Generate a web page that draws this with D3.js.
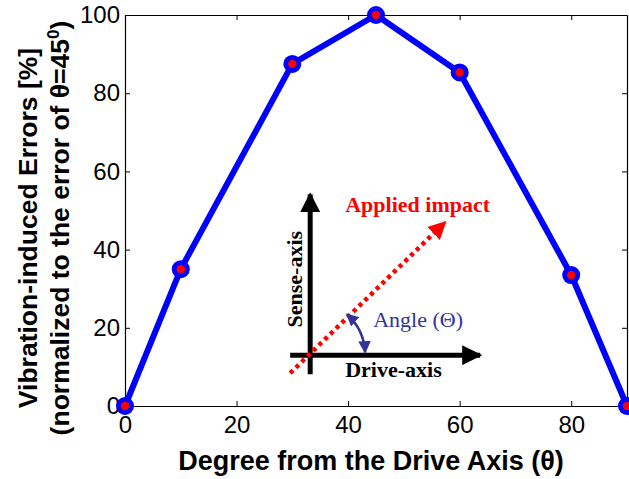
<!DOCTYPE html>
<html>
<head>
<meta charset="utf-8">
<script src="https://cdn.jsdelivr.net/npm/d3@7"></script>
<style>
  body { margin: 0; background: #fff; }
  svg { display: block; }
</style>
</head>
<body>
<svg width="629" height="479"></svg>
<script>
"use strict";

// data
let degrees = [0, 10, 30, 45, 60, 80, 90];
let errors = [0, 35, 87.5, 100, 85.3, 33.5, 0];
let xTicks = [0, 20, 40, 60, 80];
let yTicks = [0, 20, 40, 60, 80, 100];

let svg = d3.select("svg"),
    margin = { top: 15, right: 2, bottom: 73, left: 125 },
    width = +svg.attr("width") - margin.left - margin.right,
    height = +svg.attr("height") - margin.top - margin.bottom;

let x = d3.scaleLinear().domain([0, 90]).range([margin.left, margin.left + width]);
let y = d3.scaleLinear().domain([0, 100]).range([margin.top + height, margin.top]);

let tickFont = "'Liberation Sans', Arial, Helvetica, sans-serif";

// box with inward ticks (matlab style)
svg.append("g").attr("transform", "translate(0," + y(0) + ")")
    .call(d3.axisBottom(x).tickValues(xTicks).tickSizeInner(-5).tickSizeOuter(0).tickPadding(10));
svg.append("g").attr("transform", "translate(" + x(0) + ",0)")
    .call(d3.axisLeft(y).tickValues(yTicks).tickSizeInner(-5).tickSizeOuter(0).tickPadding(5));
svg.append("g").attr("transform", "translate(0," + y(100) + ")")
    .call(d3.axisTop(x).tickValues(xTicks).tickSizeInner(-5).tickSizeOuter(0).tickFormat(""));
svg.append("g").attr("transform", "translate(" + x(90) + ",0)")
    .call(d3.axisRight(y).tickValues(yTicks).tickSizeInner(-5).tickSizeOuter(0).tickFormat(""));

svg.selectAll(".domain").attr("stroke", "#000").attr("stroke-width", 1.2);
svg.selectAll(".tick line").attr("stroke", "#000");
svg.selectAll(".tick text").attr("font-family", tickFont).attr("font-size", 24).attr("fill", "#000");

// data line and markers
let line = d3.line().x(function (d, i) { return x(degrees[i]); }).y(function (d) { return y(d); });
svg.append("path").datum(errors)
    .attr("d", line)
    .attr("fill", "none")
    .attr("stroke", "#0000ff")
    .attr("stroke-width", 6)
    .attr("stroke-linejoin", "round");

let pts = svg.append("g").selectAll("g").data(errors).enter().append("g")
    .attr("transform", function (d, i) { return "translate(" + x(degrees[i]) + "," + y(d) + ")"; });
pts.append("circle").attr("r", 9).attr("fill", "#0000ff");
pts.append("circle").attr("r", 4.2).attr("fill", "#ff0000");

// axis titles
svg.append("text")
    .attr("x", 371).attr("y", 470)
    .attr("text-anchor", "middle")
    .attr("font-family", tickFont).attr("font-weight", "bold").attr("font-size", 27)
    .text("Degree from the Drive Axis (θ)");

let yl = svg.append("text")
    .attr("transform", "translate(37,228) rotate(-90)")
    .attr("text-anchor", "middle")
    .attr("font-family", tickFont).attr("font-weight", "bold").attr("font-size", 26.5);
yl.append("tspan").attr("x", 0).attr("y", 0).text("Vibration-induced Errors [%]");
yl.append("tspan").attr("x", 0).attr("y", 32).text("(normalized to the error of θ=45");
yl.append("tspan").attr("dy", -10).attr("font-size", 17).text("0");
yl.append("tspan").attr("dy", 10).text(")");

// inset diagram: drive / sense axes with the impact direction
let serif = "'Liberation Serif', 'Times New Roman', Times, serif";
let ox = x(33.2), oy = y(13);
let inset = svg.append("g").attr("transform", "translate(" + ox + "," + oy + ")");

let defs = svg.append("defs");
defs.append("marker").attr("id", "blk").attr("viewBox", "0 0 10 10")
    .attr("refX", 9).attr("refY", 5).attr("markerWidth", 4).attr("markerHeight", 4)
    .attr("markerUnits", "strokeWidth").attr("orient", "auto")
    .append("path").attr("d", "M0,0L10,5L0,10Z").attr("fill", "#000");
defs.append("marker").attr("id", "red").attr("viewBox", "0 0 10 10")
    .attr("refX", 9).attr("refY", 5).attr("markerWidth", 4).attr("markerHeight", 4)
    .attr("markerUnits", "strokeWidth").attr("orient", "auto")
    .append("path").attr("d", "M0,0L10,5L0,10Z").attr("fill", "#ff0000");
defs.append("marker").attr("id", "nav").attr("viewBox", "0 0 10 10")
    .attr("refX", 9).attr("refY", 5).attr("markerWidth", 5).attr("markerHeight", 5)
    .attr("markerUnits", "strokeWidth").attr("orient", "auto-start-reverse")
    .append("path").attr("d", "M0,0L10,5L0,10Z").attr("fill", "#333399");

inset.append("line").attr("x1", -20).attr("y1", 0).attr("x2", 170).attr("y2", 0)
    .attr("stroke", "#000").attr("stroke-width", 5).attr("marker-end", "url(#blk)");
inset.append("line").attr("x1", 0).attr("y1", 19).attr("x2", 0).attr("y2", -161)
    .attr("stroke", "#000").attr("stroke-width", 5).attr("marker-end", "url(#blk)");
inset.append("line").attr("x1", -20).attr("y1", 18).attr("x2", 135).attr("y2", -133)
    .attr("stroke", "#ff0000").attr("stroke-width", 4.5)
    .attr("stroke-dasharray", "4,4").attr("marker-end", "url(#red)");

let r = 55;
inset.append("path")
    .attr("d", "M" + (r * Math.cos(0.05)) + "," + (-r * Math.sin(0.05)) + " A" + r + "," + r + " 0 0,0 " + (r * Math.cos(0.84)) + "," + (-r * Math.sin(0.84)))
    .attr("fill", "none").attr("stroke", "#333399").attr("stroke-width", 2.5)
    .attr("marker-start", "url(#nav)").attr("marker-end", "url(#nav)");

inset.append("text").attr("x", 35).attr("y", -143)
    .attr("font-family", serif).attr("font-weight", "bold").attr("font-size", 22)
    .attr("fill", "#ff0000").text("Applied impact");
inset.append("text").attr("x", 35).attr("y", 22)
    .attr("font-family", serif).attr("font-weight", "bold").attr("font-size", 22)
    .attr("fill", "#000").text("Drive-axis");
inset.append("text").attr("transform", "translate(-8,-76) rotate(-90)")
    .attr("text-anchor", "middle")
    .attr("font-family", serif).attr("font-weight", "bold").attr("font-size", 22)
    .attr("fill", "#000").text("Sense-axis");
inset.append("text").attr("x", 63).attr("y", -28)
    .attr("font-family", serif).attr("font-size", 22)
    .attr("fill", "#333399").text("Angle (Θ)");
</script>
</body>
</html>
